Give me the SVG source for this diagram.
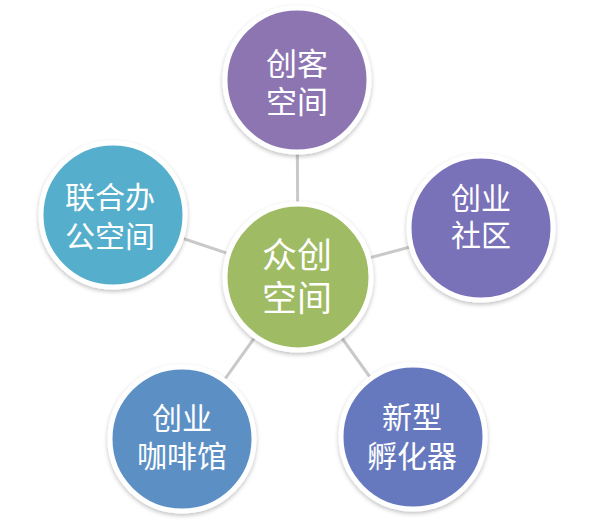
<svg xmlns="http://www.w3.org/2000/svg" width="600" height="529" viewBox="0 0 600 529">
<defs>
<filter id="sh" x="-20%" y="-20%" width="140%" height="140%">
<feDropShadow dx="0" dy="2" stdDeviation="2" flood-color="#000" flood-opacity="0.25"/>
</filter>
<style>
.node circle{stroke:#fff;stroke-width:5;filter:url(#sh)}
.node text{fill:#fff;font-family:"Noto Sans CJK SC","Noto Sans",sans-serif;text-anchor:middle}
.conn line{stroke:#c9c9c9;stroke-width:3}
</style>
</defs>
<rect width="600" height="529" fill="#fff"/>
<g id="connectors" class="conn">
<line x1="298" y1="277" x2="297" y2="80"/>
<line x1="298" y1="277" x2="481" y2="228"/>
<line x1="298" y1="277" x2="413" y2="437"/>
<line x1="298" y1="277" x2="182" y2="439"/>
<line x1="298" y1="277" x2="113" y2="215"/>
</g>
<g id="n-top" class="node">
<circle cx="297" cy="80" r="72" fill="#8d75b2"/>
<text font-size="31"><tspan x="297" y="75">创客</tspan><tspan x="297" y="113">空间</tspan></text>
</g>
<g id="n-right" class="node">
<circle cx="481" cy="228" r="72" fill="#7a72b8"/>
<text font-size="30"><tspan x="481" y="209">创业</tspan><tspan x="481" y="246">社区</tspan></text>
</g>
<g id="n-bottomright" class="node">
<circle cx="413" cy="437" r="72" fill="#6679bf"/>
<text font-size="30"><tspan x="412" y="428">新型</tspan><tspan x="412" y="467">孵化器</tspan></text>
</g>
<g id="n-bottomleft" class="node">
<circle cx="182" cy="439" r="72" fill="#5b90c5"/>
<text font-size="30"><tspan x="182" y="429">创业</tspan><tspan x="182" y="467">咖啡馆</tspan></text>
</g>
<g id="n-left" class="node">
<circle cx="113" cy="215" r="72" fill="#55aecb"/>
<text font-size="30"><tspan x="110" y="208">联合办</tspan><tspan x="110" y="247">公空间</tspan></text>
</g>
<g id="n-center" class="node">
<circle cx="298" cy="277" r="73" fill="#9fbb63"/>
<text font-size="35"><tspan x="297" y="268">众创</tspan><tspan x="297" y="311">空间</tspan></text>
</g>
</svg>
